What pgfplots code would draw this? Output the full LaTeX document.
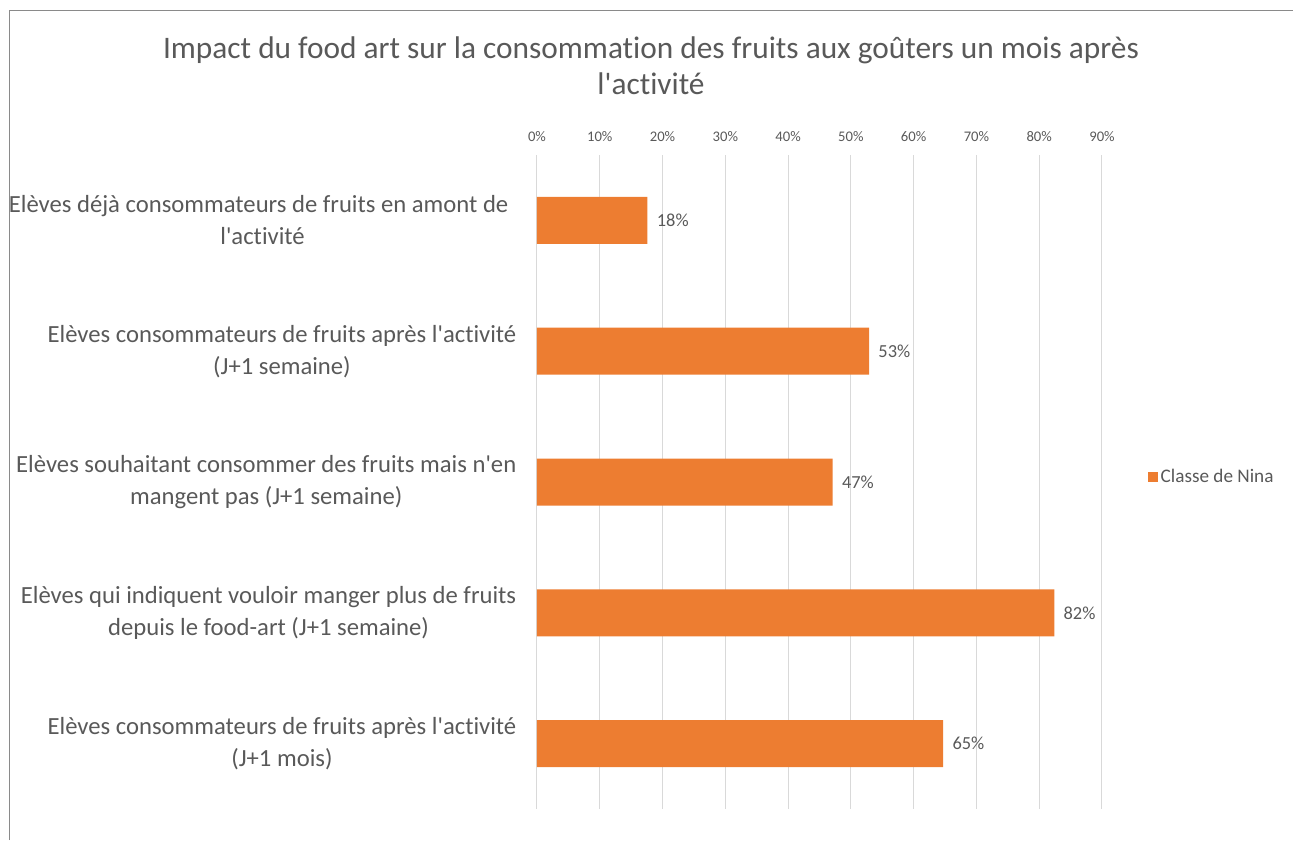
\documentclass[border=0pt]{standalone}
\usepackage{pgfplots}
\pgfplotsset{compat=1.18}
\usepackage{fontspec}
\setmainfont{Carlito}[Ligatures={TeXOff,CommonOff}]
\definecolor{barorange}{HTML}{ED7D31}
\definecolor{txt}{HTML}{595959}
\definecolor{grd}{HTML}{D9D9D9}
\definecolor{frm}{HTML}{8A8A8A}
\begin{document}
\begin{tikzpicture}[x=1pt,y=1pt]
\path[use as bounding box] (0,0) rectangle (969.75,630);
\draw[frm, line width=0.75pt] (7.1,0) -- (7.1,621.75) -- (969.75,621.75);
\node[text=txt, font=\fontsize{23.5}{27}\selectfont, align=center] at (488.25,580.5) {Impact du food art sur la consommation des fruits aux goûters un mois après\\l'activité};
\begin{axis}[
 at={(402.75pt,23.25pt)}, anchor=south west,
 scale only axis, width=423.75pt, height=490.5pt,
 xbar, bar width=35.25pt,
 xmin=0, xmax=90, ymin=0.5, ymax=5.5, y dir=reverse,
 xtick={0,10,...,90}, xticklabel pos=upper,
 xticklabel={\pgfmathprintnumber{\tick}\%},
 /pgf/number format/assume math mode=true,
 xticklabel style={font=\fontsize{11}{13}\selectfont, text=txt, yshift=6.5pt},
 ytick={1,...,5},
 yticklabels={{Elèves déjà consommateurs de fruits en amont de\rule{6pt}{0pt}\\l'activité},
   {Elèves consommateurs de fruits après l'activité\\(J+1 semaine)},
   {Elèves souhaitant consommer des fruits mais n'en\\mangent pas (J+1 semaine)},
   {Elèves qui indiquent vouloir manger plus de fruits\\depuis le food-art (J+1 semaine)},
   {Elèves consommateurs de fruits après l'activité\\(J+1 mois)}},
 yticklabel style={align=center, font=\fontsize{18.5}{24}\selectfont, text=txt, xshift=-12pt},
 major tick length=0pt,
 axis line style={draw=none},
 xmajorgrids, grid style={grd, line width=0.75pt},
 nodes near coords={\pgfmathprintnumber[fixed,precision=0]{\pgfplotspointmeta}\%},
 point meta=x,
 nodes near coords style={anchor=west, font=\fontsize{13.8}{16}\selectfont, text=txt, xshift=3.5pt},
 legend style={draw=none, at={(1.081,0.508)}, anchor=west, font=\fontsize{14.4}{17}\selectfont, text=txt, inner sep=0pt},
 legend image code/.code={\fill[barorange] (0pt,-3.75pt) rectangle (7.5pt,3.75pt);},
]
\addplot[fill=barorange, draw=none] table[x=v, y=c] {
c v
1 17.6
2 52.9
3 47.1
4 82.4
5 64.7
};
\addlegendentry{Classe de Nina}
\end{axis}
\end{tikzpicture}
\end{document}
